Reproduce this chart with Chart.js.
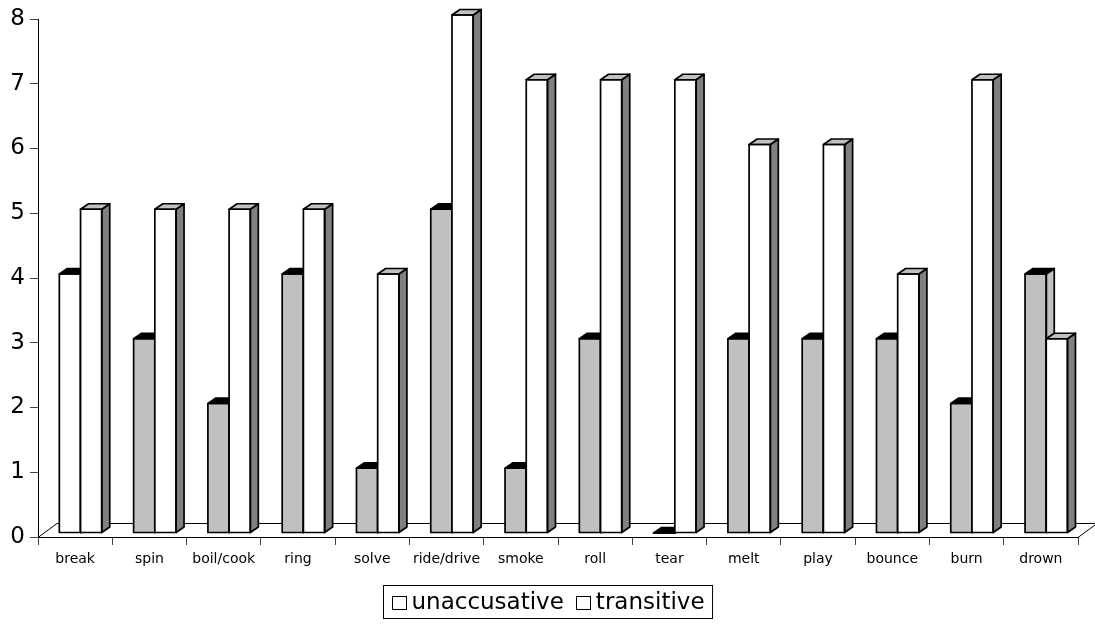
<!DOCTYPE html>
<html>
<head>
<meta charset="utf-8">
<script src="https://cdn.jsdelivr.net/npm/chart.js@4/dist/chart.umd.min.js"></script>
<style>
  html, body { margin: 0; padding: 0; background: #ffffff; }
  #wrap { width: 1095px; height: 626px; }
</style>
</head>
<body>
<div id="wrap"><canvas id="chart" width="1095" height="626"></canvas></div>
<script>
// Verbs and counts per construction
const verbs = ['break', 'spin', 'boil/cook', 'ring', 'solve', 'ride/drive', 'smoke',
               'roll', 'tear', 'melt', 'play', 'bounce', 'burn', 'drown'];
const unaccusative = [4, 3, 2, 4, 1, 5, 1, 3, 0, 3, 3, 3, 2, 4];
const transitive   = [5, 5, 5, 5, 4, 8, 7, 7, 7, 6, 6, 4, 7, 3];
const yTicks = [0, 1, 2, 3, 4, 5, 6, 7, 8];

const FONT = 'DejaVu Sans';

// Face colours for the pseudo-3D columns, per dataset index
const faces = [
  { top: '#000000', side: '#C0C0C0' },
  { top: '#C0C0C0', side: '#808080' }
];
const DEPTH_X = 8, DEPTH_Y = -5.5;     // column depth
const FLOOR_X = 19, FLOOR_Y = -14;     // floor depth
const SHIFT_X = 5.4, SHIFT_Y = -4;     // columns sit mid-floor

const unaccFill = unaccusative.map((v, i) => i === 0 ? '#FFFFFF' : '#C0C0C0');

function drawFaces(ctx, el, f) {
  const p = el.getProps(['x', 'y', 'base', 'width'], true);
  const l = p.x - p.width / 2, r = p.x + p.width / 2;
  const t = Math.min(p.y, p.base), b = Math.max(p.y, p.base);
  // side face
  ctx.beginPath();
  ctx.moveTo(r, t);
  ctx.lineTo(r + DEPTH_X, t + DEPTH_Y);
  ctx.lineTo(r + DEPTH_X, b + DEPTH_Y);
  ctx.lineTo(r, b);
  ctx.closePath();
  ctx.fillStyle = f.side;
  ctx.fill();
  ctx.stroke();
  // top face
  ctx.beginPath();
  ctx.moveTo(l, t);
  ctx.lineTo(l + DEPTH_X, t + DEPTH_Y);
  ctx.lineTo(r + DEPTH_X, t + DEPTH_Y);
  ctx.lineTo(r, t);
  ctx.closePath();
  ctx.fillStyle = f.top;
  ctx.fill();
  ctx.stroke();
  // front outline
  ctx.strokeRect(l, t, r - l, b - t);
}

const column3d = {
  id: 'column3d',
  beforeDatasetsDraw(chart) {
    const { ctx, chartArea: a } = chart;
    // floor outline
    ctx.save();
    ctx.strokeStyle = '#000';
    ctx.lineWidth = 1;
    ctx.beginPath();
    ctx.moveTo(a.left, a.bottom + 0.5);
    ctx.lineTo(a.left + FLOOR_X, a.bottom + FLOOR_Y + 0.5);
    ctx.lineTo(a.right + FLOOR_X, a.bottom + FLOOR_Y + 0.5);
    ctx.lineTo(a.right, a.bottom + 0.5);
    ctx.stroke();
    ctx.restore();
    ctx.save();
    ctx.translate(SHIFT_X, SHIFT_Y);
  },
  // The first series is painted last; draw the depth faces column by column
  // so each transitive column sits in front of its unaccusative neighbour.
  afterDatasetDraw(chart, args) {
    if (args.index !== 0) return;
    const { ctx } = chart;
    const front = chart.getDatasetMeta(0).data;
    const back = chart.getDatasetMeta(1).data;
    ctx.save();
    ctx.strokeStyle = '#000';
    ctx.lineWidth = 1.7;
    ctx.lineJoin = 'round';
    front.forEach((el, i) => {
      drawFaces(ctx, el, faces[0]);
      const el2 = back[i];
      ctx.save();
      el2.draw(ctx);
      ctx.restore();
      drawFaces(ctx, el2, faces[1]);
    });
    ctx.restore();
  },
  afterDatasetsDraw(chart) {
    chart.ctx.restore();
  }
};

// Boxed legend centred under the plot
const boxedLegend = {
  id: 'boxedLegend',
  afterDraw(chart) {
    const { ctx, width } = chart;
    const ds = chart.data.datasets;
    ctx.save();
    ctx.font = '23px "' + FONT + '"';
    ctx.textBaseline = 'middle';
    const mk = 15, gapText = 5, gapItem = 12, pad = 8;
    const widths = ds.map(d => mk + gapText + ctx.measureText(d.label).width);
    const total = widths.reduce((s, w) => s + w, 0) + gapItem * (ds.length - 1) + pad * 2;
    const left = Math.round((width - total) / 2) + 0.5;
    const top = 585.5, h = 33, cy = top + h / 2;
    ctx.strokeStyle = '#000';
    ctx.lineWidth = 1;
    ctx.strokeRect(left, top, total, h);
    let x = left + pad;
    ds.forEach((d, i) => {
      ctx.fillStyle = '#FFFFFF';
      ctx.fillRect(Math.round(x), Math.round(cy - 6), mk, 14);
      ctx.strokeRect(Math.round(x) + 0.5, Math.round(cy - 6) + 0.5, mk - 1, 13);
      ctx.fillStyle = '#000';
      ctx.fillText(d.label, x + mk + gapText, cy + 1);
      x += widths[i] + gapItem;
    });
    ctx.restore();
  }
};

new Chart(document.getElementById('chart'), {
  type: 'bar',
  data: {
    labels: verbs,
    datasets: [
      {
        label: 'unaccusative',
        data: unaccusative,
        backgroundColor: unaccFill,
        borderColor: '#000',
        borderWidth: 0,
        borderSkipped: false,
        clip: false
      },
      {
        label: 'transitive',
        data: transitive,
        backgroundColor: '#FFFFFF',
        borderColor: '#000',
        borderWidth: 0,
        borderSkipped: false,
        clip: false
      }
    ]
  },
  options: {
    responsive: false,
    animation: false,
    devicePixelRatio: 1,
    layout: { padding: { top: 19, right: 17, left: 0, bottom: 0 } },
    datasets: { bar: { categoryPercentage: 0.571, barPercentage: 1.0 } },
    plugins: {
      legend: { display: false },
      tooltip: { enabled: false },
      title: { display: false }
    },
    scales: {
      x: {
        grid: { display: true, drawOnChartArea: false, drawTicks: true, tickLength: 8, color: '#444', offset: true },
        border: { display: true, color: '#000', width: 1 },
        ticks: { color: '#000', font: { family: FONT, size: 14 }, padding: 6, maxRotation: 0, autoSkip: false },
        afterFit(scale) { scale.height = 89; }
      },
      y: {
        min: 0,
        max: 8,
        afterBuildTicks(scale) { scale.ticks = yTicks.map(v => ({ value: v })); },
        grid: { display: true, drawOnChartArea: false, drawTicks: true, tickLength: 8, color: '#444' },
        border: { display: true, color: '#000', width: 1 },
        ticks: { color: '#000', font: { family: FONT, size: 23 }, padding: 5 },
        afterFit(scale) { scale.width = 38; }
      }
    }
  },
  plugins: [column3d, boxedLegend]
});
</script>
</body>
</html>
